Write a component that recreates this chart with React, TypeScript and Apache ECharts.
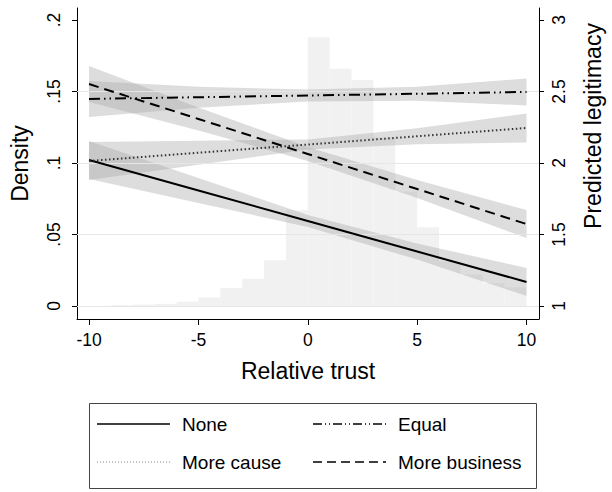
import React, { useEffect, useRef } from "react";
import * as echarts from "echarts";

// x positions at which the predictions were read
const trustPoints = [-10, -5, 0, 5, 10];

// Predicted legitimacy (right axis) and 95% CI bounds
const noneLine = [2.021, 1.808, 1.594, 1.381, 1.168];
const noneLower = [1.888, 1.721, 1.552, 1.325, 1.07];
const noneUpper = [2.154, 1.895, 1.636, 1.437, 1.266];

const causeLine = [2.014, 2.072, 2.129, 2.187, 2.245];
const causeLower = [1.881, 1.988, 2.094, 2.131, 2.144];
const causeUpper = [2.147, 2.156, 2.164, 2.243, 2.346];

const equalLine = [2.448, 2.46, 2.472, 2.484, 2.497];
const equalLower = [2.322, 2.387, 2.43, 2.435, 2.403];
const equalUpper = [2.574, 2.533, 2.514, 2.533, 2.591];

const businessLine = [2.552, 2.308, 2.063, 1.818, 1.573];
const businessLower = [2.426, 2.228, 2.014, 1.755, 1.475];
const businessUpper = [2.678, 2.388, 2.112, 1.881, 1.671];

// Histogram of relative trust (left axis, density), bins of width 1
const binStarts = [-10, -9, -8, -7, -6, -5, -4, -3, -2, -1, 0, 1, 2, 3, 4, 5, 6, 7, 8, 9];
const binDensity = [
  0, 0.0005, 0.001, 0.0015, 0.003, 0.006, 0.0126, 0.019, 0.032, 0.067,
  0.188, 0.166, 0.158, 0.118, 0.08, 0.055, 0.031, 0.022, 0.016, 0.013,
];

const xTicks = [-10, -5, 0, 5, 10];
const densityTicks = [0, 0.05, 0.1, 0.15, 0.2];
const legitimacyTicks = [1, 1.5, 2, 2.5, 3];
const gridValues = [0, 0.05, 0.1, 0.15];

const FONT = "Liberation Sans, Arial, Helvetica, sans-serif";

export default function App() {
  const ref = useRef<HTMLDivElement>(null);

  useEffect(() => {
    if (!ref.current) return;
    const chart = echarts.init(ref.current, null, { renderer: "svg" });

    const band = (name: string, lower: number[], upper: number[]) => ({
      type: "custom",
      name,
      xAxisIndex: 0,
      yAxisIndex: 1,
      silent: true,
      z: 2,
      data: [[trustPoints[0], lower[0]]],
      renderItem: (_p: any, api: any) => {
        const pts: number[][] = [];
        for (let i = 0; i < trustPoints.length; i++) pts.push(api.coord([trustPoints[i], upper[i]]));
        for (let i = trustPoints.length - 1; i >= 0; i--) pts.push(api.coord([trustPoints[i], lower[i]]));
        return {
          type: "polygon",
          shape: { points: pts },
          style: { fill: "rgba(170,170,170,0.4)" },
        };
      },
    });

    const line = (name: string, vals: number[], dash: any, color = "#000", width = 2) => ({
      type: "line",
      name,
      xAxisIndex: 0,
      yAxisIndex: 1,
      symbol: "none",
      z: 5,
      data: trustPoints.map((x, i) => [x, vals[i]]),
      lineStyle: { color, width, type: dash },
    });

    const fmtDensity = (v: number) => (v === 0 ? "0" : String(+v.toFixed(3)).replace(/^0/, ""));

    const legendItems = [
      { label: "None", x: 97, y: 424, dash: undefined, color: "#000", w: 1.6 },
      { label: "Equal", x: 313, y: 424, dash: [9, 3, 1, 3, 1, 3], color: "#000", w: 1.6 },
      { label: "More cause", x: 97, y: 462, dash: [1, 2], color: "#888", w: 1.2 },
      { label: "More business", x: 313, y: 462, dash: [9, 5], color: "#000", w: 1.6 },
    ];

    const graphic: any[] = [
      {
        type: "rect",
        shape: { x: 89.5, y: 403.5, width: 447, height: 85 },
        style: { fill: "#fff", stroke: "#444", lineWidth: 1 },
      },
    ];
    legendItems.forEach((it) => {
      graphic.push({
        type: "line",
        shape: { x1: it.x, y1: it.y, x2: it.x + 73, y2: it.y },
        style: { stroke: it.color, lineWidth: it.w, lineDash: it.dash },
      });
      graphic.push({
        type: "text",
        x: it.x + 85,
        y: it.y,
        style: {
          text: it.label,
          fontSize: 19,
          fontFamily: FONT,
          fill: "#000",
          verticalAlign: "middle",
          align: "left",
        },
      });
    });

    chart.setOption({
      animation: false,
      backgroundColor: "#fff",
      textStyle: { fontFamily: FONT },
      grid: { left: 77, right: 67, top: 8, bottom: 173 },
      xAxis: {
        type: "value",
        min: -10.55,
        max: 10.57,
        name: "Relative trust",
        nameLocation: "middle",
        nameGap: 40,
        nameTextStyle: { fontSize: 23, color: "#000", fontFamily: FONT },
        axisLine: { show: true, onZero: false, lineStyle: { color: "#000", width: 1 } },
        axisTick: { show: true, customValues: xTicks, length: 6, lineStyle: { color: "#000" } },
        axisLabel: { customValues: xTicks, fontSize: 17.5, color: "#000", margin: 12, fontFamily: FONT },
        splitLine: { show: false },
      },
      yAxis: [
        {
          type: "value",
          position: "left",
          min: -0.0091,
          max: 0.2084,
          name: "Density",
          nameLocation: "middle",
          nameGap: 46,
          nameRotate: 90,
          nameTextStyle: { fontSize: 23, color: "#000", fontFamily: FONT },
          axisLine: { show: true, onZero: false, lineStyle: { color: "#000", width: 1 } },
          axisTick: { show: true, customValues: densityTicks, length: 5, lineStyle: { color: "#000" } },
          axisLabel: {
            customValues: densityTicks,
            rotate: 90,
            fontSize: 17.5,
            color: "#000",
            margin: 14,
            fontFamily: FONT,
            formatter: fmtDensity,
          },
          splitLine: { show: false },
        },
        {
          type: "value",
          position: "right",
          min: 0.909,
          max: 3.084,
          name: "Predicted legitimacy",
          nameLocation: "middle",
          nameGap: 42,
          nameRotate: 90,
          nameTextStyle: { fontSize: 23, color: "#000", fontFamily: FONT, padding: [0, 0, 0, 75] },
          axisLine: { show: true, onZero: false, lineStyle: { color: "#000", width: 1 } },
          axisTick: { show: true, customValues: legitimacyTicks, length: 5, lineStyle: { color: "#000" } },
          axisLabel: {
            customValues: legitimacyTicks,
            rotate: 90,
            fontSize: 17.5,
            color: "#000",
            margin: 11,
            fontFamily: FONT,
          },
          splitLine: { show: false },
        },
      ],
      graphic,
      series: [
        {
          type: "custom",
          name: "hist",
          xAxisIndex: 0,
          yAxisIndex: 0,
          silent: true,
          z: 1,
          encode: { x: [0, 1], y: 2 },
          data: binStarts.map((s, i) => [s, s + 1, binDensity[i]]),
          renderItem: (_p: any, api: any) => {
            const p0 = api.coord([api.value(0), api.value(2)]);
            const p1 = api.coord([api.value(1), 0]);
            return {
              type: "rect",
              shape: { x: p0[0], y: p0[1], width: p1[0] - p0[0], height: p1[1] - p0[1] },
              style: { fill: "#f1f1f1" },
            };
          },
          markLine: {
            silent: true,
            symbol: "none",
            label: { show: false },
            lineStyle: { color: "#e6e6e6", width: 1, type: "solid" },
            data: gridValues.map((v) => ({ yAxis: v })),
          },
        },
        band("noneCI", noneLower, noneUpper),
        band("causeCI", causeLower, causeUpper),
        band("equalCI", equalLower, equalUpper),
        band("businessCI", businessLower, businessUpper),
        line("None", noneLine, "solid", "#000", 2),
        line("More cause", causeLine, [1.5, 2.5], "#333", 2),
        line("Equal", equalLine, [11, 4, 1.5, 4, 1.5, 4], "#000", 2),
        line("More business", businessLine, [10, 6], "#000", 2),
      ],
    });

    return () => chart.dispose();
  }, []);

  return <div ref={ref} style={{ width: 612, height: 492, position: "absolute", left: 0, top: 0 }} />;
}
